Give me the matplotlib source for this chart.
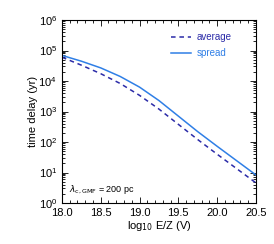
import matplotlib
matplotlib.use("Agg")
import matplotlib.pyplot as plt
import numpy as np
from matplotlib.ticker import MultipleLocator, LogLocator, NullFormatter

# log10 E/Z grid and log10 time delay (yr)
log_e = [18.0, 18.25, 18.5, 18.75, 19.0, 19.25, 19.5, 19.75, 20.0, 20.25, 20.5]
log_avg = [4.78, 4.52, 4.24, 3.92, 3.53, 3.08, 2.58, 2.08, 1.60, 1.13, 0.66]
log_spread = [4.84, 4.65, 4.43, 4.15, 3.80, 3.36, 2.85, 2.34, 1.86, 1.39, 0.92]

avg = 10 ** np.array(log_avg)
spread = 10 ** np.array(log_spread)

plt.rcParams['font.family'] = ['Liberation Sans', 'DejaVu Sans']

fig = plt.figure(figsize=(2.74, 2.44), dpi=100)
ax = fig.add_axes([0.226, 0.168, 0.708, 0.75])

ax.plot(log_e, avg, '--', color='#2b2ba8', lw=1.1, dashes=(3, 2.5), label='average')
ax.plot(log_e, spread, '-', color='#2f7fe6', lw=1.1, label='spread')

ax.set_yscale('log')
ax.set_xlim(18.0, 20.5)
ax.set_ylim(1, 1e6)
ax.xaxis.set_major_locator(MultipleLocator(0.5))
ax.xaxis.set_minor_locator(MultipleLocator(0.1))
ax.xaxis.set_major_formatter(matplotlib.ticker.FormatStrFormatter('%.1f'))
ax.yaxis.set_major_locator(LogLocator(base=10, numticks=10))
ax.yaxis.set_minor_locator(LogLocator(base=10, subs=np.arange(2, 10), numticks=20))
ax.yaxis.set_minor_formatter(NullFormatter())

ax.tick_params(which='both', direction='in', top=True, right=True, labelsize=8, width=0.6)
ax.tick_params(which='major', length=4)
ax.tick_params(which='minor', length=2)
for s in ax.spines.values():
    s.set_linewidth(0.8)

ax.set_xlabel('log$_{10}$ E/Z (V)', fontsize=8, labelpad=1)
ax.set_ylabel('time delay (yr)', fontsize=8, labelpad=0)

ax.text(0.035, 0.06, r'$\lambda_{\rm c,GMF}$ = 200 pc', transform=ax.transAxes, fontsize=6.5)

leg = ax.legend(loc='upper right', bbox_to_anchor=(0.92, 0.98), fontsize=7,
                frameon=False, handlelength=2.0, handletextpad=0.6,
                labelspacing=0.6, labelcolor='linecolor')

fig.savefig('out.png', dpi=100)
